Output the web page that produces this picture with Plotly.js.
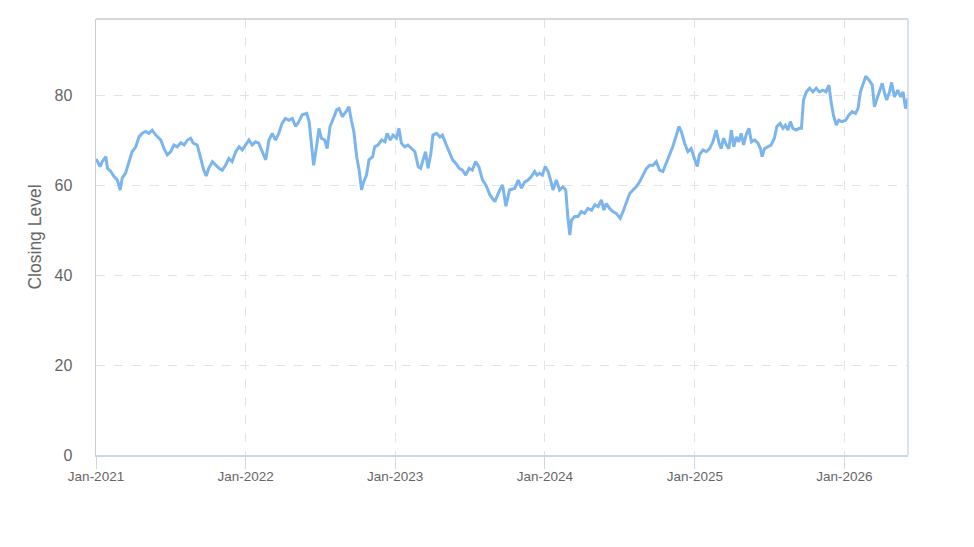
<!DOCTYPE html>
<html>
<head>
<meta charset="utf-8">
<script src="https://cdn.plot.ly/plotly-3.0.1.min.js"></script>
<style>html,body{margin:0;padding:0;background:#fff;}#chart{width:974px;height:547px;}</style>
</head>
<body>
<div id="chart"></div>
<script>
// Days elapsed since 2021-01-01 for each reading
const dayOffsets = [
0,10,15,24,28,36,44,52,59,64,72,80,88,97,105,113,121,129,137,146,158,166,174,182,190,198,207,215,223,231,237,247,255,263,269,275,284,292,300,308,316,324,332,341,349,357,365,373,381,389,397,405,414,422,430,438,446,454,462,471,479,487,495,503,
514,520,526,531,538,544,550,558,564,571,579,587,593,601,610,617,623,629,636,642,648,653,660,666,675,680,688,697,705,710,718,725,733,739,745,753,761,770,778,786,792,798,804,810,817,822,831,839,845,853,861,870,878,886,894,902,910,918,926,934,943,
951,961,973,985,992,1000,1009,1022,1030,1038,1046,1054,1062,1070,1076,1082,1089,1096,1103,1109,1115,1123,1131,1139,1146,1151,1156,1160,1168,1176,1184,1192,1200,1209,1217,1225,1233,1239,1245,1253,1261,1269,1279,1287,1294,1302,1310,1318,1326,1334,1343,1351,1359,1367,1375,1383,1391,1399,1407,1416,1422,1428,1436,1444,1452,1460,1467,1472,
1481,1489,1497,1505,1513,1520,1525,1531,1538,1544,1550,1556,1562,1568,1574,1580,1586,1593,1599,1607,1615,1621,1625,1631,1639,1647,1655,1661,1669,1676,1682,1688,1694,1700,1708,1716,1721,1726,1733,1741,1749,1757,1765,1773,1781,1788,1794,1799,1806,1812,1820,1829,1837,1845,1853,1859,1865,1872,1878,1886,1894,1899,1905,1911,1918,1924,1929,1936,1941,1948,1956,1963,1969,1975,1981
];
const closingLevel = [
65.8,64.1,65.2,66.3,63.7,63.0,61.9,61.1,58.9,61.6,62.6,64.8,67.4,68.5,70.7,71.5,71.9,71.5,72.2,71.1,70.0,68.1,66.7,67.4,68.9,68.5,69.4,68.9,70.0,70.4,69.3,68.9,66.3,63.3,62.0,63.7,65.2,64.4,63.7,63.3,64.4,65.9,65.2,67.4,68.5,67.8,68.9,70.0,68.9,69.6,69.3,67.4,65.6,70.0,71.5,70.0,71.5,73.7,74.8,74.4,74.8,73.0,74.1,75.6,
75.9,74.1,69.3,64.4,68.5,72.6,70.4,70.0,68.1,73.0,74.8,76.7,77.0,75.2,76.3,77.4,74.4,71.9,66.3,63.3,58.9,60.7,62.2,65.6,66.3,68.5,68.9,70.0,69.6,71.5,70.0,71.1,70.4,72.6,69.3,68.5,68.9,68.1,67.4,64.1,63.7,65.6,67.4,63.7,67.0,71.1,71.5,70.7,71.1,69.3,67.4,65.6,64.8,63.7,63.3,62.2,63.7,63.3,65.2,64.1,61.1,
60.0,57.8,56.3,58.9,60.0,55.3,58.9,59.3,61.1,59.3,60.7,61.1,61.9,63.0,62.2,62.6,62.2,64.1,63.0,61.1,58.9,61.1,58.9,59.6,58.9,53.0,48.9,52.2,53.0,53.0,54.1,53.7,54.8,54.4,55.6,55.2,56.7,54.4,55.9,54.8,54.1,53.7,52.6,54.4,56.3,58.1,58.9,59.6,60.7,62.2,63.7,64.4,64.4,65.2,63.3,63.0,64.8,66.7,68.5,71.1,73.0,71.9,69.3,67.4,68.1,65.9,64.1,66.7,
67.8,67.4,68.1,69.6,72.2,69.3,68.1,70.4,68.9,68.1,72.2,68.5,70.7,69.6,71.5,68.9,71.1,72.6,69.6,70.0,69.3,68.1,66.3,68.1,68.5,68.9,70.4,73.0,73.7,72.6,73.3,72.2,74.1,72.6,72.2,72.6,72.6,78.9,80.7,81.5,80.7,81.5,80.7,81.1,80.7,82.2,78.1,75.6,73.3,74.4,74.1,74.4,75.6,76.3,75.9,77.0,80.7,82.6,84.2,83.3,82.2,77.4,78.9,80.7,82.6,80.4,78.9,80.7,82.8,79.6,81.1,79.6,80.7,77.0,79.3
];
const yTicks = [0, 20, 40, 60, 80];
const yTitle = 'Closing Level';

const startMs = Date.UTC(2021, 0, 1);
const dates = dayOffsets.map(d => new Date(startMs + d * 86400000).toISOString().slice(0, 10));

const gridColor = '#e3e3e3';
const trace = {
  x: dates, y: closingLevel, type: 'scatter', mode: 'lines',
  line: {color: '#7cb5ec', width: 3}, hoverinfo: 'x+y'
};
const layout = {
  width: 974, height: 547,
  margin: {l: 96, r: 66, t: 19, b: 92},
  paper_bgcolor: '#ffffff', plot_bgcolor: '#ffffff',
  font: {family: '"Liberation Sans", Arial, sans-serif', color: '#666666'},
  showlegend: false,
  xaxis: {
    type: 'date', range: [dates[0], dates[dates.length - 1]],
    tick0: '2021-01-01', dtick: 'M12', tickformat: '%b-%Y',
    showgrid: true, gridcolor: gridColor, griddash: 'dash', gridwidth: 1,
    ticks: 'outside', ticklen: 12, tickcolor: '#ccd6eb', tickwidth: 1,
    ticklabelstandoff: -4,
    showline: true, linecolor: '#ccd6eb', linewidth: 1.5,
    tickfont: {size: 13.5, color: '#666666'}, zeroline: false, fixedrange: true
  },
  yaxis: {
    range: [0, 96.9], tickvals: yTicks,
    showgrid: true, gridcolor: gridColor, griddash: 'dash', gridwidth: 1,
    showline: true, linecolor: '#cccccc', linewidth: 1.5,
    ticks: '', ticklabelstandoff: 19,
    tickfont: {size: 16, color: '#666666'}, zeroline: false,
    title: {text: yTitle, font: {size: 17.5, color: '#666666'}, standoff: 8}
  },
  shapes: [
    {type: 'line', xref: 'paper', yref: 'paper', x0: 0, x1: 1, y0: 1, y1: 1, line: {color: '#cccccc', width: 1.5}},
    {type: 'line', xref: 'paper', yref: 'paper', x0: 1, x1: 1, y0: 0, y1: 1, line: {color: '#ccd6eb', width: 1.5}}
  ]
};
Plotly.newPlot('chart', [trace], layout, {displayModeBar: false, staticPlot: true});
</script>
</body>
</html>
